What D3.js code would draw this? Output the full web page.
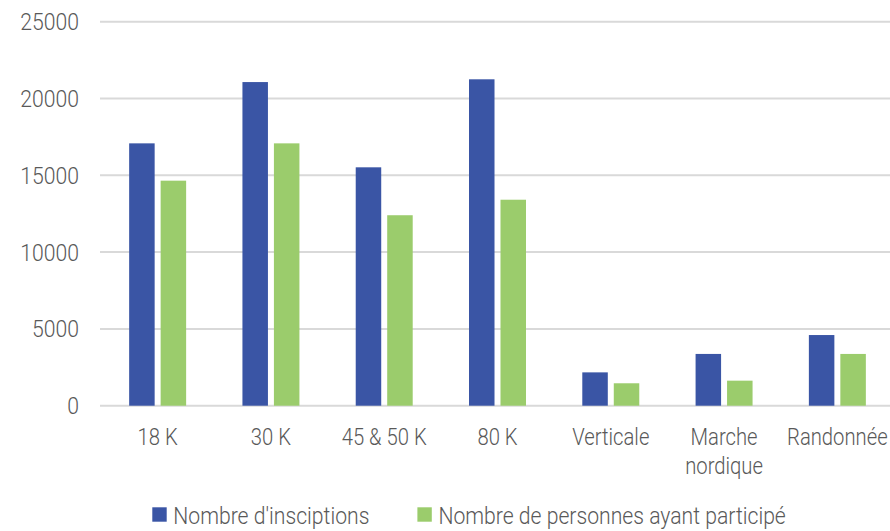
<!DOCTYPE html>
<html>
<head>
<meta charset="utf-8">
<script src="https://cdn.jsdelivr.net/npm/d3@7/dist/d3.min.js"></script>
<style>
  html, body { margin: 0; padding: 0; background: #ffffff; }
  svg { display: block; }
  text { font-family: Roboto, "Noto Sans", sans-serif; font-weight: 300; fill: #595959; }
</style>
</head>
<body>
<svg id="chart" width="890" height="531"></svg>
<script>
// Race categories (line breaks marked with \n)
const categories = ["18 K", "30 K", "45 & 50 K", "80 K", "Verticale", "Marche\nnordique", "Randonnée"];
// Series names
const seriesNames = ["Nombre d'insciptions", "Nombre de personnes ayant participé"];
// Registrations per category
const inscriptions = [17080, 21070, 15520, 21250, 2170, 3370, 4600];
// Participants per category
const participants = [14650, 17080, 12400, 13410, 1460, 1630, 3370];
// Y axis ticks
const yTicks = [0, 5000, 10000, 15000, 20000, 25000];

const colors = ["#3a55a5", "#9bcc6c"];
const fontSize = 23;
const squeeze = 0.88;

const svg = d3.select("#chart");

const rows = categories.map((c, i) => ({ cat: c, values: [inscriptions[i], participants[i]] }));

const y = d3.scaleLinear().domain([0, 25000]).range([405.7, 21.7]);
const x = d3.scaleBand().domain(categories).range([101, 894]).paddingInner(0.497).paddingOuter(0.2485);
const x1 = d3.scaleBand().domain([0, 1]).range([0, x.bandwidth()]).paddingInner(0.19);

// condense text horizontally to mimic a narrow face
function condense(sel, k) {
  sel.each(function () {
    const w = this.getComputedTextLength();
    if (w > 0) {
      d3.select(this).attr("textLength", w * k).attr("lengthAdjust", "spacingAndGlyphs");
    }
  });
}

// Gridlines
svg.append("g")
  .selectAll("line")
  .data(yTicks)
  .join("line")
  .attr("x1", 100)
  .attr("x2", 890)
  .attr("y1", d => y(d))
  .attr("y2", d => y(d))
  .attr("stroke", "#d9d9d9")
  .attr("stroke-width", 2);

// Y axis labels
const yAxis = svg.append("g")
  .attr("transform", "translate(79,0)")
  .call(d3.axisLeft(y).tickValues(yTicks).tickSize(0).tickPadding(0).tickFormat(d3.format("d")));
yAxis.select(".domain").remove();
yAxis.selectAll("text")
  .attr("dy", "0.35em")
  .style("font-size", fontSize + "px")
  .attr("fill", "#595959")
  .call(condense, 0.92);

// Bars
const groups = svg.append("g")
  .selectAll("g")
  .data(rows)
  .join("g")
  .attr("transform", d => `translate(${x(d.cat)},0)`);

groups.selectAll("rect")
  .data(d => d.values.map((v, i) => ({ v, i })))
  .join("rect")
  .attr("x", d => x1(d.i))
  .attr("width", x1.bandwidth())
  .attr("y", d => y(d.v))
  .attr("height", d => y(0) - y(d.v))
  .attr("fill", d => colors[d.i]);

// X axis labels
const xLabels = svg.append("g")
  .selectAll("text")
  .data(categories)
  .join("text")
  .attr("x", d => x(d) + x.bandwidth() / 2)
  .attr("y", 445)
  .attr("text-anchor", "middle")
  .style("font-size", fontSize + "px");

xLabels.each(function (d) {
  const t = d3.select(this);
  const cx = x(d) + x.bandwidth() / 2;
  d.split("\n").forEach((line, i) => {
    t.append("tspan").attr("x", cx).attr("dy", i === 0 ? 0 : 28.5).text(line);
  });
});
xLabels.selectAll("tspan").call(condense, squeeze);

// Legend
const legend = svg.append("g");
let lx = 152.3;
seriesNames.forEach((name, i) => {
  legend.append("rect")
    .attr("x", lx).attr("y", 507.3)
    .attr("width", 14.4).attr("height", 14.4)
    .attr("fill", colors[i]);
  const t = legend.append("text")
    .attr("x", lx + 21)
    .attr("y", 524.3)
    .style("font-size", fontSize + "px")
    .text(name);
  condense(t, 0.92);
  const w = t.node().getBBox().width;
  lx = lx + 21 + w + 48;
});
</script>
</body>
</html>
